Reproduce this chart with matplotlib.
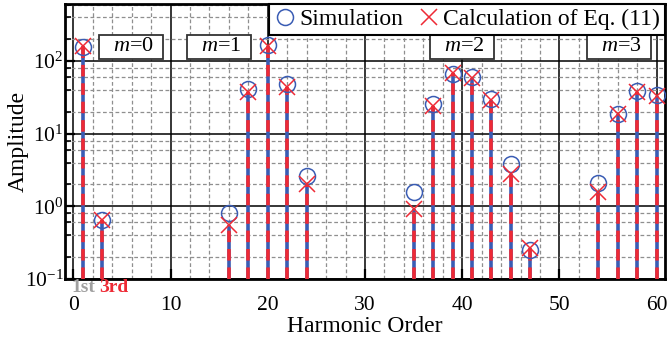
import numpy as np
import matplotlib.pyplot as plt
from matplotlib.ticker import LogLocator, MultipleLocator

plt.rcParams['font.family'] = ['Liberation Serif', 'DejaVu Serif']
plt.rcParams['mathtext.fontset'] = 'custom'
plt.rcParams['mathtext.rm'] = 'Liberation Serif'
plt.rcParams['mathtext.it'] = 'Liberation Serif:italic'

# 高調波次数と振幅
order = [1, 3, 16, 18, 20, 22, 24, 35, 37, 39, 41, 43, 45, 47, 54, 56, 58, 60]
sim = [158, 0.64, 0.82, 41, 167, 48, 2.58, 1.6, 25.5, 66.7, 60, 30.2, 3.86, 0.253, 2.09, 18.8, 38.9, 34.3]
calc = [160, 0.64, 0.55, 38, 162, 44.6, 2.03, 0.92, 24.2, 69.5, 58, 29.3, 2.81, 0.267, 1.57, 18.8, 38, 33]

# m のラベル位置
m_labels = ['$m$=0', '$m$=1', '$m$=2', '$m$=3']
m_pos = [5.95, 15.0, 40.0, 56.1]

blue = '#3a5cb4'
red = '#ee2a35'
ymin, ymax = 0.1, 610

fig = plt.figure(figsize=(6.71, 3.41), dpi=100)
ax = fig.add_axes([0.0969, 0.1818, 0.8941, 0.8064])
ax.set_yscale('log')
ax.set_xlim(-0.85, 60.85)
ax.set_ylim(ymin, ymax)

# 目盛りと格子
ax.xaxis.set_major_locator(MultipleLocator(10))
ax.xaxis.set_minor_locator(MultipleLocator(2))
ax.yaxis.set_major_locator(LogLocator(base=10, numticks=10))
ax.yaxis.set_minor_locator(LogLocator(base=10, subs=(2, 4, 6, 8), numticks=10))
ax.yaxis.set_minor_formatter(plt.NullFormatter())
ax.grid(which='minor', color='#8f8f8f', linestyle=(0, (3, 2)), linewidth=0.9)
ax.grid(which='major', color='black', linestyle='-', linewidth=1.1)
ax.set_axisbelow(True)
ax.tick_params(which='major', direction='in', length=7, width=1.6, labelsize=15.5)
ax.tick_params(which='minor', direction='in', length=4, width=1.2)
ax.tick_params(axis='x', which='minor', length=0)
ax.tick_params(axis='x', which='major', pad=12)
ax.tick_params(axis='y', which='major', pad=1)
for s in ax.spines.values():
    s.set_linewidth(2.0)

# ステム（青の実線に赤の破線を重ねる）
ax.vlines(order, ymin, calc, colors=blue, linewidth=2.6, zorder=3)
ax.vlines(order, ymin, calc, colors=red, linewidth=2.6, linestyles=(0, (3.2, 1.9)), zorder=4)

ax.plot(order, sim, linestyle='none', marker='o', markersize=11.5, markerfacecolor='none',
        markeredgecolor=blue, markeredgewidth=1.1, label='Simulation', zorder=5)
ax.plot(order, calc, linestyle='none', marker='x', markersize=11.5, color=red,
        markeredgewidth=1.1, label='Calculation of Eq. (11)', zorder=6)

for lab, xp in zip(m_labels, m_pos):
    ax.text(xp, 157, '  ' + lab + '  ', ha='center', va='center', fontsize=16, zorder=7,
            bbox=dict(boxstyle='square,pad=0.12', facecolor='white', edgecolor='#333333', linewidth=1.3))

# 1次・3次の注記
tr = ax.get_xaxis_transform()
ax.text(1, -0.03, '1st', transform=tr, ha='center', va='center', fontsize=14,
        fontweight='bold', color='#a0a0a0')
ax.text(4.2, -0.03, '3rd', transform=tr, ha='center', va='center', fontsize=14,
        fontweight='bold', color=red)

ax.set_xlabel('Harmonic Order', fontsize=17, labelpad=1)
ax.set_ylabel('Amplitude', fontsize=17, labelpad=-3)

leg = ax.legend(loc='upper right', ncol=2, fontsize=17, frameon=True, fancybox=False,
                borderaxespad=0, handletextpad=0.1, columnspacing=0.6, handlelength=1.0,
                borderpad=0.2, framealpha=1)
leg.get_frame().set_edgecolor('black')
leg.get_frame().set_linewidth(1.5)
leg.set_zorder(10)

fig.savefig('out.png', dpi=100)
